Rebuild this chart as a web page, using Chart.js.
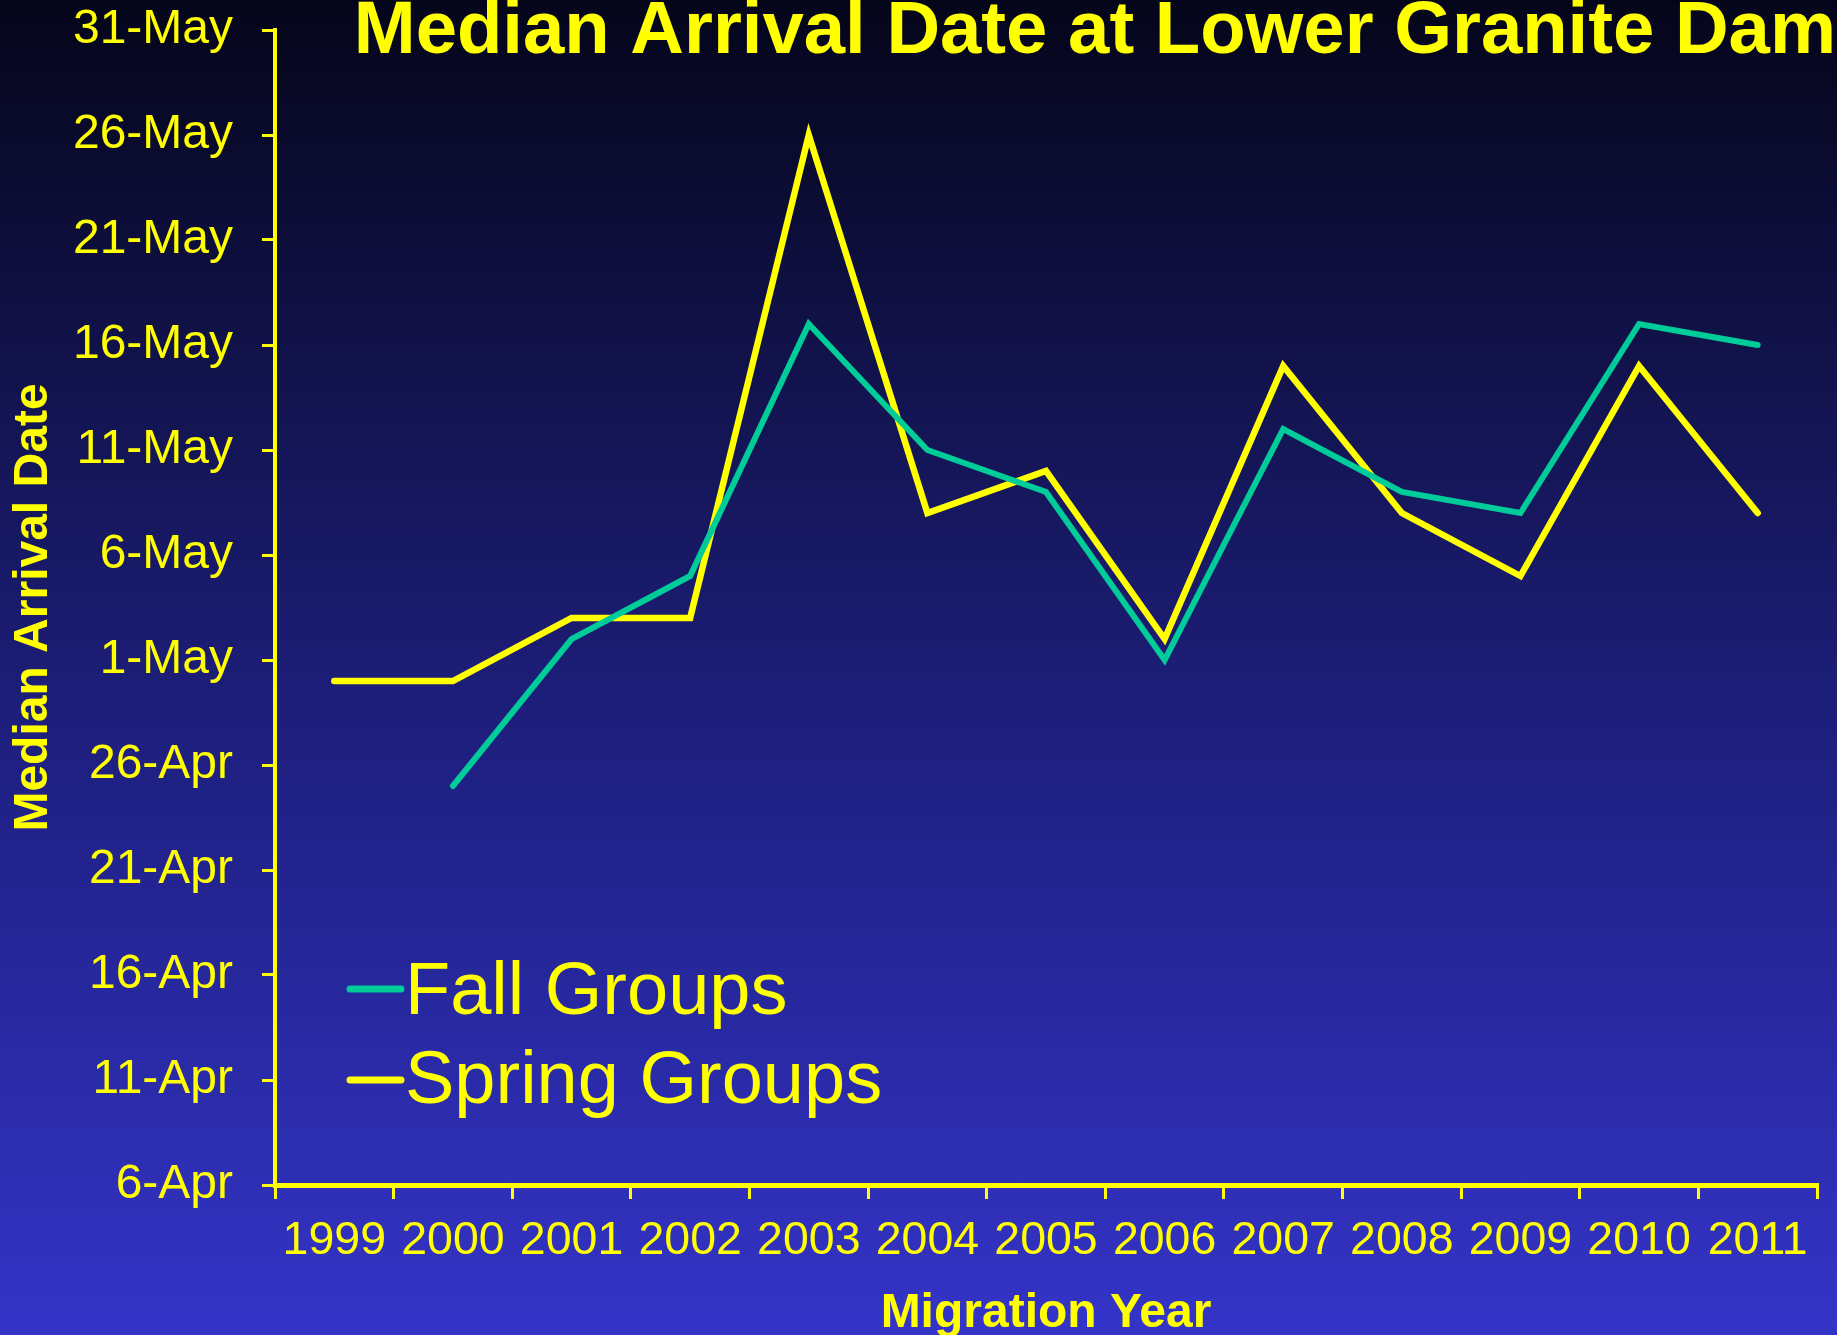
<!DOCTYPE html>
<html>
<head>
<meta charset="utf-8">
<script src="https://cdn.jsdelivr.net/npm/chart.js@4/dist/chart.umd.min.js"></script>
<style>
  html, body { margin: 0; padding: 0; width: 1837px; height: 1335px; overflow: hidden; }
  body { background: linear-gradient(to bottom, #05051a 0%, #131450 30%, #21228a 62%, #3434c8 100%); }
  #wrap { position: absolute; left: 0; top: 0; width: 1837px; height: 1335px; }
</style>
</head>
<body>
<div id="wrap"><canvas id="c" width="1837" height="1335"></canvas></div>
<script>
// ---- data ----
const years = ['1999','2000','2001','2002','2003','2004','2005','2006','2007','2008','2009','2010','2011'];
const fallDates = [null,'25-Apr','2-May','5-May','17-May','11-May','9-May','1-May','12-May','9-May','8-May','17-May','16-May'];
const springDates = ['30-Apr','30-Apr','3-May','3-May','26-May','8-May','10-May','2-May','15-May','8-May','5-May','15-May','8-May'];
const yTickLabels = ['6-Apr','11-Apr','16-Apr','21-Apr','26-Apr','1-May','6-May','11-May','16-May','21-May','26-May','31-May'];
const seriesNames = ['Fall Groups','Spring Groups'];
const seriesColors = ['#00CC99','#FFFF00'];

// day number: days counted from 1-Apr (Apr has 30 days)
function dayNum(s) {
  if (s === null) return null;
  const [d, m] = s.split('-');
  return (m === 'Apr' ? 0 : 30) + parseInt(d, 10);
}
const fallValues = fallDates.map(dayNum);
const springValues = springDates.map(dayNum);
const yTickValues = yTickLabels.map(dayNum);

const YELLOW = '#FFFF00';
const FONT = '"Liberation Sans", Arial, Helvetica, sans-serif';

const overlayPlugin = {
  id: 'overlay',
  afterDraw(chart) {
    const ctx = chart.ctx;
    ctx.save();
    // title
    ctx.fillStyle = YELLOW;
    ctx.font = 'bold 74.3px ' + FONT;
    ctx.textAlign = 'right';
    ctx.textBaseline = 'alphabetic';
    ctx.fillText('Median Arrival Date at Lower Granite Dam', 1836, 53);
    // legend
    const rows = [989, 1080];
    const bases = [1014, 1103];
    chart.data.datasets.forEach((ds, i) => {
      ctx.strokeStyle = ds.borderColor;
      ctx.lineWidth = 7;
      ctx.lineCap = 'round';
      ctx.beginPath();
      ctx.moveTo(350, rows[i]);
      ctx.lineTo(401, rows[i]);
      ctx.stroke();
      ctx.fillStyle = YELLOW;
      ctx.font = '74px ' + FONT;
      ctx.textAlign = 'left';
      ctx.fillText(ds.label, 405, bases[i]);
    });
    ctx.restore();
  }
};

new Chart(document.getElementById('c'), {
  type: 'line',
  data: {
    labels: years,
    datasets: [
      { label: seriesNames[0], data: fallValues, borderColor: seriesColors[0], borderWidth: 6,
        pointRadius: 0, borderCapStyle: 'round', borderJoinStyle: 'miter', tension: 0, spanGaps: false },
      { label: seriesNames[1], data: springValues, borderColor: seriesColors[1], borderWidth: 6.5,
        pointRadius: 0, borderCapStyle: 'round', borderJoinStyle: 'miter', tension: 0 }
    ]
  },
  options: {
    responsive: false,
    animation: false,
    devicePixelRatio: 1,
    layout: { padding: { top: 30, right: 20, left: 0, bottom: 0 } },
    plugins: { legend: { display: false }, title: { display: false }, tooltip: { enabled: false } },
    scales: {
      x: {
        type: 'category',
        offset: true,
        grid: { display: true, drawOnChartArea: false, drawTicks: true, tickLength: 14, color: YELLOW, lineWidth: 3, offset: true },
        border: { display: true, color: YELLOW, width: 5 },
        ticks: { color: YELLOW, font: { family: FONT, size: 46.5 }, padding: 14, maxRotation: 0, autoSkip: false },
        title: { display: true, text: 'Migration Year', color: YELLOW, font: { family: FONT, size: 48, weight: 'bold', lineHeight: 0.9 }, padding: 0 },
        afterFit(s) { s.height = 150; s.paddingLeft = 0; s.paddingRight = 0; }
      },
      y: {
        type: 'linear',
        min: yTickValues[0],
        max: yTickValues[yTickValues.length - 1],
        afterBuildTicks(s) { s.ticks = yTickValues.map(v => ({ value: v })); },
        grid: { display: true, drawOnChartArea: false, drawTicks: true, tickLength: 13, color: YELLOW, lineWidth: 3 },
        border: { display: true, color: YELLOW, width: 4 },
        ticks: {
          color: YELLOW, font: { family: FONT, size: 48 }, padding: 29, autoSkip: false,
          callback(v) { const i = yTickValues.indexOf(v); return i >= 0 ? yTickLabels[i] : ''; }
        },
        title: { display: true, text: 'Median Arrival Date', color: YELLOW, font: { family: FONT, size: 48, weight: 'bold' }, padding: { top: 5, bottom: 0 } },
        afterFit(s) { s.width = 275; s.paddingTop = 0; s.paddingBottom = 0; }
      }
    }
  },
  plugins: [overlayPlugin]
});
</script>
</body>
</html>
